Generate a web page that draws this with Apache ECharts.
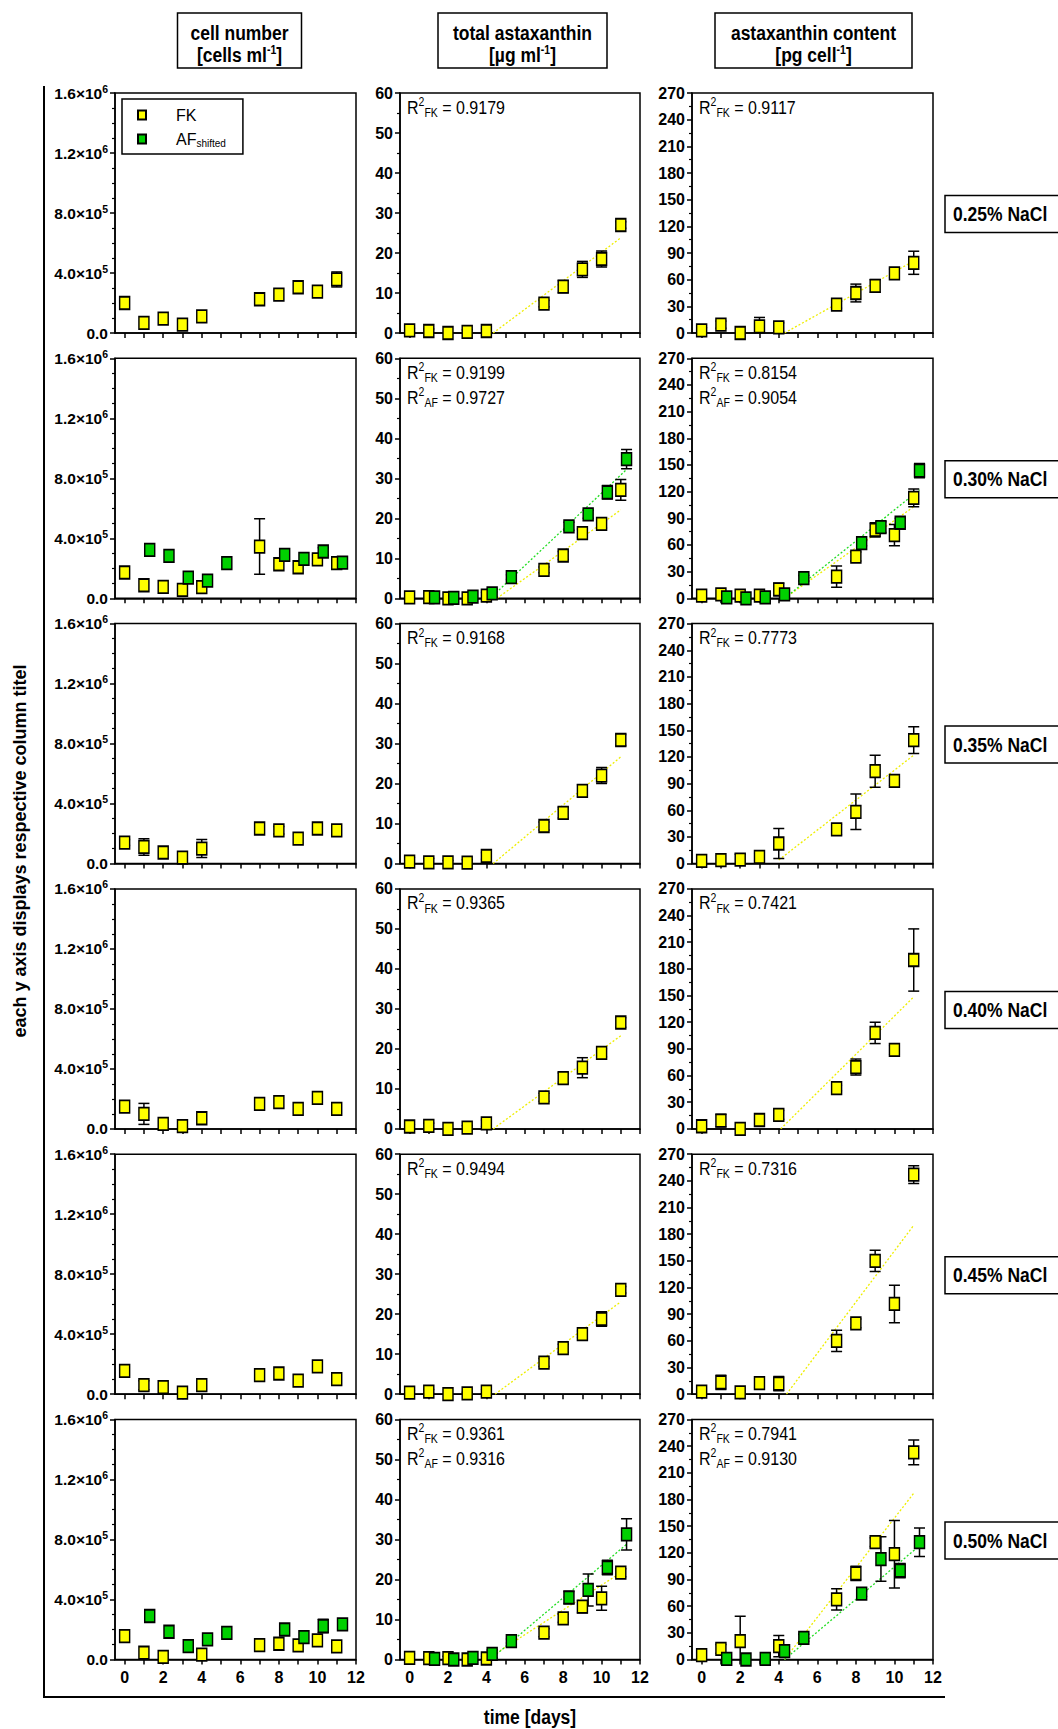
<!DOCTYPE html>
<html><head><meta charset="utf-8">
<script src="https://cdn.jsdelivr.net/npm/echarts@6/dist/echarts.min.js"></script>
<style>html,body{margin:0;padding:0;background:#fff;}#c{width:1058px;height:1729px;}</style>
</head><body><div id="c"></div>
<script>
// ---------------- DATA ----------------
const daysFK = [0, 1, 2, 3, 4, 7, 8, 9, 10, 11];
const daysAF = [1.3, 2.3, 3.3, 4.3, 5.3, 8.3, 9.3, 10.3, 11.3];
const rowLabels = ['0.25% NaCl', '0.30% NaCl', '0.35% NaCl', '0.40% NaCl', '0.45% NaCl', '0.50% NaCl'];
const xTickValues = [0, 1, 2, 3, 4, 5, 6, 7, 8, 9, 10, 11, 12];
const xLabelValues = [0, 2, 4, 6, 8, 10, 12];
const cellTickValues = [0, 400000, 800000, 1200000, 1600000];
const cellTickMant = ['0.0', '4.0×10', '8.0×10', '1.2×10', '1.6×10'];
const cellTickExp = ['', '5', '5', '6', '6'];

// cell number [cells/ml]
const cellFK = [
  [200000, 67000, 96000, 56000, 111000, 225000, 256000, 305000, 276000, 357000],
  [172000, 87000, 76000, 56000, 74000, 345000, 227000, 207000, 260000, 234000],
  [140000, 111000, 74000, 40000, 100000, 234000, 222000, 167000, 234000, 222000],
  [149000, 100000, 33000, 18000, 71000, 167000, 178000, 134000, 207000, 134000],
  [156000, 60000, 47000, 11000, 60000, 127000, 138000, 91000, 185000, 100000],
  [156000, 45000, 18000, null, 33000, 96000, 105000, 94000, 127000, 87000]
];
const cellFKErr = [
  [0, 0, 0, 0, 0, 0, 0, 0, 0, 50000],
  [0, 0, 0, 0, 0, 185000, 0, 0, 30000, 0],
  [20000, 55000, 0, 0, 60000, 0, 25000, 0, 0, 0],
  [0, 70000, 0, 0, 0, 0, 0, 0, 0, 0],
  [0, 30000, 0, 20000, 0, 0, 0, 0, 0, 0],
  [0, 0, 0, 0, 0, 0, 0, 0, 0, 0]
];
const cellAF = [null,
  [323000, 283000, 138000, 118000, 234000, 290000, 263000, 312000, 238000],
  null, null, null,
  [290000, 185000, 89000, 134000, 178000, 200000, 149000, 223000, 234000]];
const cellAFErr = [null,
  [0, 0, 0, 0, 0, 0, 0, 25000, 0],
  null, null, null,
  [0, 0, 0, 0, 0, 0, 0, 45000, 0]];

// total astaxanthin [µg/ml]
const totFK = [
  [0.67, 0.5, 0, 0.3, 0.5, 7.35, 11.6, 15.9, 18.5, 27.0],
  [0.25, 0.3, 0, 0, 0.67, 7.1, 10.7, 16.3, 18.6, 27.1],
  [0.5, 0.3, 0.3, 0.25, 1.9, 9.4, 12.7, 18.2, 22.0, 30.9],
  [0.6, 0.75, 0, 0.3, 1.4, 7.9, 12.7, 15.3, 19.0, 26.6],
  [0.4, 0.67, 0, 0.2, 0.67, 7.9, 11.5, 15.0, 18.8, 26.1],
  [0.4, 0.33, 0.33, 0, 0.25, 6.7, 10.3, 13.2, 15.3, 21.7]
];
const totFKErr = [
  [0.5, 0.5, 0, 0.5, 0.5, 0.8, 1.5, 2.0, 2.0, 0.8],
  [0, 0, 0, 0, 0.8, 0.7, 1.0, 1.0, 1.0, 2.6],
  [1.0, 1.0, 0.5, 0.7, 0.8, 1.0, 1.3, 1.5, 2.0, 1.4],
  [0.5, 0.7, 0, 0.5, 0.8, 1.0, 1.3, 2.5, 1.0, 1.2],
  [0.5, 0.5, 0, 0.3, 0.5, 1.0, 1.0, 0.8, 1.8, 0.8],
  [1.0, 0.5, 0.5, 0, 0.5, 1.0, 1.0, 1.5, 3.0, 1.0]
];
const totAF = [null,
  [0.25, 0.1, 0.4, 1.25, 5.3, 18.0, 21.0, 26.5, 34.8],
  null, null, null,
  [0.17, 0, 0.4, 1.4, 4.6, 15.5, 17.4, 23.0, 31.3]];
const totAFErr = [null,
  [0, 0, 0, 1.0, 0.6, 1.0, 1.0, 1.7, 2.4],
  null, null, null,
  [0, 0, 0, 1.0, 0.5, 1.5, 4.0, 1.8, 3.9]];

// astaxanthin content [pg/cell]
const contFK = [
  [3, 9.4, 0, 7.5, 6.4, 32, 45, 53, 67, 79],
  [3, 4.5, 3, 3, 10, 24.4, 47, 77, 71, 113],
  [3, 3.8, 4.5, 7.5, 22.6, 38.4, 58.3, 104, 93, 139],
  [3, 9.4, 0, 10, 15.8, 45.9, 69.6, 108, 89, 190],
  [3, 13.2, 2, 12.4, 12, 60, 79.7, 150, 101.5, 247],
  [5, 12, 20.7, null, 15, 67.7, 97, 132, 118.5, 233]
];
const contFKErr = [
  [3, 4, 0, 10, 5, 4, 10, 7, 5, 13],
  [0, 0, 0, 0, 7, 12, 5, 8, 12, 10],
  [0, 0, 6, 4, 17, 6, 20, 18, 5, 15],
  [0, 7, 0, 5, 5, 3, 9, 12, 5, 35],
  [0, 8, 0, 5, 8, 12, 5, 12, 21, 10],
  [0, 5, 28, 0, 12, 12, 8, 5, 38, 14]
];
const contAF = [null,
  [1, 0, 1, 4.5, 22.6, 62, 80, 85, 143.7],
  null, null, null,
  [0.75, 0, 0.75, 9.4, 24.4, 74, 113, 100, 132]];
const contAFErr = [null,
  [0, 0, 0, 0, 3, 3, 6, 5, 8],
  null, null, null,
  [0, 0, 0, 5, 4, 3, 25, 8, 16]];

// linear fits: [xStart, yStart, xEnd, yEnd]
const trendTotFK = [[4.35, 0, 11, 23.8], [4.55, 0, 11, 22.1], [4.35, 0, 11, 26.7], [4.35, 0, 11, 23.3], [4.45, 0, 11, 23.1], [4.0, 0, 11, 21.7]];
const trendTotAF = [null, [4.2, 0, 11.3, 32.2], null, null, null, [4.2, 0, 11.3, 28.8]];
const trendContFK = [[4.3, 0, 11, 81], [4.3, 0, 11, 103], [4.0, 4, 11, 122], [4.1, 0, 11, 148.5], [4.4, 0, 11, 190], [4.3, 0, 11, 187]];
const trendContAF = [null, [4.3, 0, 11.3, 122], null, null, null, [4.3, 0, 11.3, 128]];

const r2TotFK = ['0.9179', '0.9199', '0.9168', '0.9365', '0.9494', '0.9361'];
const r2TotAF = [null, '0.9727', null, null, null, '0.9316'];
const r2ContFK = ['0.9117', '0.8154', '0.7773', '0.7421', '0.7316', '0.7941'];
const r2ContAF = [null, '0.9054', null, null, null, '0.9130'];

const colTitle1 = ['cell number', 'total astaxanthin', 'astaxanthin content'];
const colTitle2 = ['[cells ml', '[µg ml', '[pg cell'];

// ---------------- LAYOUT ----------------
const FONT = "'Liberation Sans', Arial, Helvetica, sans-serif";
const YELLOW = '#ffff00', GREEN = '#00d000';
const colLeft = [115, 400, 692];
const colRight = [356, 640, 933];
const rowTop0 = 93, rowPitch = 265.3, plotH = 240;
const yMax = [1600000, 60, 270], yInt = [400000, 10, 30], yMinor = [4, 2, 2];
const headerBox = [[177.5, 124], [438, 169], [715, 197]];
const SY = 1.2; // vertical stretch of the lettering in the original figure

const FK_by_col = [cellFK, totFK, contFK];
const FKErr_by_col = [cellFKErr, totFKErr, contFKErr];
const AF_by_col = [cellAF, totAF, contAF];
const AFErr_by_col = [cellAFErr, totAFErr, contAFErr];
const trendFK_by_col = [null, trendTotFK, trendContFK];
const trendAF_by_col = [null, trendTotAF, trendContAF];

function errRender(params, api) {
  const x = api.value(0), y = api.value(1), e = api.value(2);
  if (!e) return null;
  const t = api.coord([x, y + e]);
  const b = api.coord([x, Math.max(0, y - e)]);
  const hw = 5.5;
  const st = { stroke: '#000', lineWidth: 1.5, fill: 'none' };
  const ch = [
    { type: 'line', shape: { x1: t[0], y1: t[1], x2: b[0], y2: b[1] }, style: st },
    { type: 'line', shape: { x1: t[0] - hw, y1: t[1], x2: t[0] + hw, y2: t[1] }, style: st }
  ];
  if (y - e > 0) ch.push({ type: 'line', shape: { x1: b[0] - hw, y1: b[1], x2: b[0] + hw, y2: b[1] }, style: st });
  return { type: 'group', children: ch };
}

const grids = [], xAxes = [], yAxes = [], series = [], graphics = [];
const axisLS = { color: '#000', width: 1.5 };

for (let r = 0; r < 6; r++) {
  for (let c = 0; c < 3; c++) {
    const g = r * 3 + c;
    const top = rowTop0 + r * rowPitch;
    grids.push({ left: colLeft[c], top: top, width: colRight[c] - colLeft[c], height: plotH,
      show: true, borderColor: '#000', borderWidth: 1.5, backgroundColor: 'transparent' });
    xAxes.push({ gridIndex: g, type: 'value', min: -0.5, max: 12,
      axisLine: { onZero: false, lineStyle: axisLS },
      axisTick: { show: true, customValues: xTickValues, length: 5, lineStyle: axisLS },
      axisLabel: { show: r === 5, customValues: xLabelValues, margin: 10, color: '#000',
        fontSize: 16, fontWeight: 'bold', fontFamily: FONT },
      splitLine: { show: false } });
    const yAx = { gridIndex: g, type: 'value', min: 0, max: yMax[c], interval: yInt[c],
      axisLine: { show: true, onZero: false, lineStyle: axisLS },
      axisTick: { show: true, length: 5, lineStyle: axisLS },
      minorTick: { show: true, splitNumber: yMinor[c], length: 3, lineStyle: { color: '#000', width: 1.2 } },
      splitLine: { show: false }, minorSplitLine: { show: false },
      axisLabel: { margin: 7, color: '#000', fontSize: 16, fontWeight: 'bold', fontFamily: FONT } };
    if (c === 0) {
      yAx.axisLabel.formatter = function (v) {
        const i = cellTickValues.indexOf(Math.round(v));
        if (i < 0) return '';
        return cellTickExp[i] ? '{m|' + cellTickMant[i] + '}{e|' + cellTickExp[i] + '}' : '{m|' + cellTickMant[i] + '}';
      };
      yAx.axisLabel.rich = {
        m: { fontSize: 15.5, fontWeight: 'bold', fontFamily: FONT, color: '#000', lineHeight: 20 },
        e: { fontSize: 10.5, fontWeight: 'bold', fontFamily: FONT, color: '#000', verticalAlign: 'top', lineHeight: 10 }
      };
    }
    yAxes.push(yAx);

    // trend lines
    const tf = trendFK_by_col[c] && trendFK_by_col[c][r];
    if (tf) series.push({ type: 'line', xAxisIndex: g, yAxisIndex: g, data: [[tf[0], tf[1]], [tf[2], tf[3]]],
      showSymbol: false, symbol: 'none', silent: true, z: 1,
      lineStyle: { color: '#eeee00', width: 1.3, type: [2, 2] } });
    const ta = trendAF_by_col[c] && trendAF_by_col[c][r];
    if (ta) series.push({ type: 'line', xAxisIndex: g, yAxisIndex: g, data: [[ta[0], ta[1]], [ta[2], ta[3]]],
      showSymbol: false, symbol: 'none', silent: true, z: 1,
      lineStyle: { color: '#22dd22', width: 1.3, type: [2, 2] } });

    // FK points + errors
    const fk = FK_by_col[c][r], fkE = FKErr_by_col[c][r];
    const fkData = [], fkErr = [];
    daysFK.forEach((d, i) => { if (fk[i] !== null) { fkData.push([d, fk[i]]); fkErr.push([d, fk[i], fkE[i]]); } });
    series.push({ type: 'custom', xAxisIndex: g, yAxisIndex: g, renderItem: errRender, data: fkErr, z: 2, silent: true, clip: true });
    const af = AF_by_col[c][r];
    let afData = null;
    if (af) {
      const afE = AFErr_by_col[c][r];
      afData = daysAF.map((d, i) => [d, af[i]]);
      series.push({ type: 'custom', xAxisIndex: g, yAxisIndex: g, renderItem: errRender,
        data: daysAF.map((d, i) => [d, af[i], afE[i]]), z: 2, silent: true, clip: true });
    }
    series.push({ name: 'FK', type: 'scatter', xAxisIndex: g, yAxisIndex: g, data: fkData, symbol: 'rect',
      symbolSize: [10, 12.5], clip: false, z: 3,
      itemStyle: { color: YELLOW, borderColor: '#000', borderWidth: 1.6, opacity: 1 } });
    if (afData) series.push({ name: 'AF', type: 'scatter', xAxisIndex: g, yAxisIndex: g, data: afData, symbol: 'rect',
      symbolSize: [10, 12.5], clip: false, z: 4,
      itemStyle: { color: GREEN, borderColor: '#000', borderWidth: 1.6, opacity: 1 } });

    // R² annotations
    if (c > 0) {
      const fkR = c === 1 ? r2TotFK[r] : r2ContFK[r];
      const afR = c === 1 ? r2TotAF[r] : r2ContAF[r];
      const rich = {
        n: { fontSize: 16, fontFamily: FONT, fill: '#000', lineHeight: 20 },
        s: { fontSize: 10.5, fontFamily: FONT, fill: '#000', verticalAlign: 'top', lineHeight: 10 },
        u: { fontSize: 10.5, fontFamily: FONT, fill: '#000', verticalAlign: 'bottom', lineHeight: 10 }
      };
      graphics.push({ type: 'text', x: colLeft[c] + 7, y: top + 14, scaleY: SY, z: 10,
        style: { text: '{n|R}{s|2}{u|FK}{n| = ' + fkR + '}', rich: rich, verticalAlign: 'middle', align: 'left' } });
      if (afR) graphics.push({ type: 'text', x: colLeft[c] + 7, y: top + 39, scaleY: SY, z: 10,
        style: { text: '{n|R}{s|2}{u|AF}{n| = ' + afR + '}', rich: rich, verticalAlign: 'middle', align: 'left' } });
    }
  }
  // row label box
  const cy = rowTop0 + r * rowPitch + plotH / 2 + 1;
  graphics.push({ type: 'rect', shape: { x: 945, y: cy - 18.5, width: 140, height: 37 },
    style: { fill: '#fff', stroke: '#000', lineWidth: 1.5 } });
  graphics.push({ type: 'text', x: 953, y: cy, scaleY: SY, style: { text: rowLabels[r], fill: '#000',
    font: 'bold 17.5px ' + FONT, align: 'left', verticalAlign: 'middle' } });
}

// column headers
for (let c = 0; c < 3; c++) {
  const bx = headerBox[c][0], bw = headerBox[c][1], cx = bx + bw / 2;
  graphics.push({ type: 'rect', shape: { x: bx, y: 13, width: bw, height: 55 },
    style: { fill: '#fff', stroke: '#000', lineWidth: 1.5 } });
  graphics.push({ type: 'text', x: cx, y: 33, scaleY: SY, style: { text: colTitle1[c], fill: '#000',
    font: 'bold 17.5px ' + FONT, align: 'center', verticalAlign: 'middle' } });
  graphics.push({ type: 'text', x: cx, y: 55, scaleY: SY, style: {
    text: '{b|' + colTitle2[c] + '}{s|-1}{b|]}',
    rich: { b: { fontSize: 17.5, fontWeight: 'bold', fontFamily: FONT, fill: '#000', lineHeight: 20 },
            s: { fontSize: 10.5, fontWeight: 'bold', fontFamily: FONT, fill: '#000', verticalAlign: 'top', lineHeight: 10 } },
    align: 'center', verticalAlign: 'middle' } });
}

// outer frame lines
graphics.push({ type: 'polyline', shape: { points: [[44, 86], [44, 1697], [945, 1697]] },
  style: { stroke: '#000', lineWidth: 2, fill: 'none' } });
// axis titles
graphics.push({ type: 'text', x: 20, y: 851, rotation: Math.PI / 2, style: {
  text: 'each y axis displays respective column titel', fill: '#000', font: 'bold 18px ' + FONT,
  align: 'center', verticalAlign: 'middle' } });
graphics.push({ type: 'text', x: 530, y: 1717, scaleY: SY, style: { text: 'time [days]', fill: '#000',
  font: 'bold 17.5px ' + FONT, align: 'center', verticalAlign: 'middle' } });

const chart = echarts.init(document.getElementById('c'), null, { renderer: 'svg' });
chart.setOption({
  animation: false,
  backgroundColor: '#fff',
  grid: grids, xAxis: xAxes, yAxis: yAxes, series: series,
  legend: {
    data: ['FK', 'AF'], orient: 'vertical', left: 122, top: 99, selectedMode: false,
    icon: 'rect', itemWidth: 8, itemHeight: 9, itemGap: 8,
    padding: [8, 17, 6, 15], borderColor: '#000', borderWidth: 1.5, backgroundColor: '#fff',
    formatter: function (n) { return n === 'AF' ? '{a|AF}{s|shifted}' : '{a|FK}'; },
    textStyle: { rich: {
      a: { fontSize: 16, fontFamily: FONT, color: '#000', lineHeight: 18, padding: [0, 0, 0, 25] },
      s: { fontSize: 10, fontFamily: FONT, color: '#000', verticalAlign: 'bottom', lineHeight: 12 } } }
  },
  graphic: graphics
});
</script></body></html>
